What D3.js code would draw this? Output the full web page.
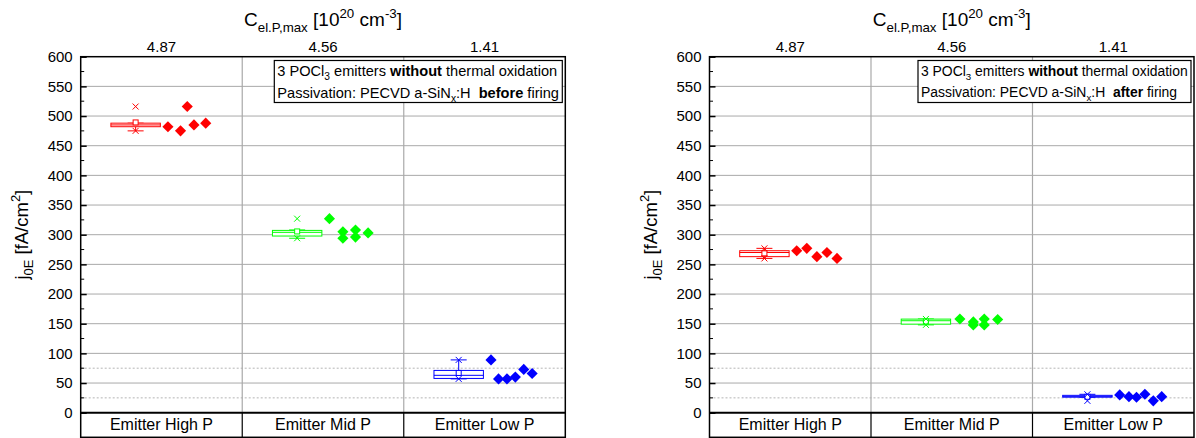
<!DOCTYPE html>
<html>
<head>
<meta charset="utf-8">
<script src="https://cdn.jsdelivr.net/npm/d3@7"></script>
<style>
  body { margin: 0; background: #fff; }
  svg { display: block; font-family: "Liberation Sans", Arial, sans-serif; }
</style>
</head>
<body>
<svg id="chart" width="1196" height="438"></svg>
<script>
const categories = ["Emitter High P", "Emitter Mid P", "Emitter Low P"];
const topLabels = ["4.87", "4.56", "1.41"];
const yTicks = d3.range(0, 601, 50);
const dottedLevels = [25, 75];
const colors = ["#ff0000", "#00ff00", "#0000ff"];

// jOE values before firing
const beforeHigh = [482, 475, 516, 485, 488];
const beforeMid = [327, 305, 294, 308, 296, 303];
const beforeLow = [89, 57, 57, 60, 73, 66];
// jOE values after firing
const afterHigh = [273, 277, 263, 270, 260];
const afterMid = [158, 153, 148, 158, 148, 157];
const afterLow = [30, 27, 26, 31, 20, 27];

// dot column of each measurement beside its box
const beforeHighCol = [0, 1.5, 2.3, 3.1, 4.5];
const beforeMidCol = [0, 1.6, 1.6, 3.1, 3.1, 4.6];
const beforeLowCol = [0, 0.9, 1.9, 2.9, 3.9, 4.9];
const afterHighCol = [0, 1.2, 2.4, 3.6, 4.8];
const afterMidCol = [0.2, 1.8, 1.8, 3.1, 3.1, 4.7];
const afterLowCol = [0, 1.1, 2.0, 3.0, 4.0, 5.0];

const svg = d3.select("#chart");
const plotTop = 56.7, zero = 412.7, plotBottom = 437.3;
const y = d3.scaleLinear().domain([0, 600]).range([zero, plotTop]);

const panels = [
  {left: 80.7, right: 565.3, word: "before", legendW: 282,
   data: [beforeHigh, beforeMid, beforeLow], cols: [beforeHighCol, beforeMidCol, beforeLowCol]},
  {left: 709.5, right: 1194, word: "after", legendW: 267,
   data: [afterHigh, afterMid, afterLow], cols: [afterHighCol, afterMidCol, afterLowCol]}
];

// text with sub/superscripts, parts = [text, mode, bold]
function richText(sel, parts, fs) {
  let shift = 0;
  sel.style("white-space", "pre");
  parts.forEach(([t, mode, bold]) => {
    const target = mode === "sub" ? fs * 0.3 : mode === "sup" ? -fs * 0.42 : 0;
    const ts = sel.append("tspan").text(t).attr("dy", target - shift);
    if (mode) ts.attr("font-size", fs * 0.7);
    if (bold) ts.attr("font-weight", "bold");
    shift = target;
  });
}

const cross = "M-3,-3L3,3M-3,3L3,-3";

function drawPanel(p) {
  const g = svg.append("g");
  const x = d3.scaleBand().domain(categories).range([p.left, p.right]);
  const bw = x.bandwidth();
  const colX = d3.scaleLinear().domain([0, 5]).range([0.54 * bw, 0.80 * bw]);

  // grid
  g.selectAll(".hg").data(yTicks.filter(v => v > 0 && v < 600)).join("line")
    .attr("x1", p.left).attr("x2", p.right)
    .attr("y1", d => y(d)).attr("y2", d => y(d))
    .attr("stroke", "#a9a9a9").attr("stroke-width", 1);
  g.selectAll(".dg").data(dottedLevels).join("line")
    .attr("x1", p.left).attr("x2", p.right)
    .attr("y1", d => y(d)).attr("y2", d => y(d))
    .attr("stroke", "#b5b5b5").attr("stroke-width", 1).attr("stroke-dasharray", "2,2");
  g.selectAll(".vg").data(categories.slice(1)).join("line")
    .attr("x1", d => x(d)).attr("x2", d => x(d))
    .attr("y1", plotTop).attr("y2", zero)
    .attr("stroke", "#a9a9a9").attr("stroke-width", 1.2);
  g.selectAll(".vb").data(categories.slice(1)).join("line")
    .attr("x1", d => x(d)).attr("x2", d => x(d))
    .attr("y1", zero).attr("y2", plotBottom)
    .attr("stroke", "#000").attr("stroke-width", 1.2);

  // left axis
  const ya = g.append("g").attr("transform", `translate(${p.left},0)`)
    .call(d3.axisLeft(y).tickValues(yTicks).tickSizeInner(-6).tickSizeOuter(0).tickPadding(8));
  ya.select(".domain").remove();
  ya.selectAll("line").attr("stroke", "#000").attr("stroke-width", 1.5);
  ya.selectAll("text").attr("font-size", 15).attr("fill", "#000")
    .attr("font-family", "Liberation Sans, Arial, sans-serif");
  g.selectAll(".mt").data(dottedLevels.concat(d3.range(125, 600, 50))).join("line")
    .attr("x1", p.left).attr("x2", p.left + 3.5)
    .attr("y1", d => y(d)).attr("y2", d => y(d))
    .attr("stroke", "#000").attr("stroke-width", 1);

  // top axis labels
  const xt = g.append("g").attr("transform", `translate(0,${plotTop})`)
    .call(d3.axisTop(x).tickSize(0).tickPadding(5).tickFormat((d, i) => topLabels[i]));
  xt.select(".domain").remove();
  xt.selectAll("text").attr("font-size", 15).attr("fill", "#000")
    .attr("font-family", "Liberation Sans, Arial, sans-serif");

  // category labels
  const xb = g.append("g").attr("transform", `translate(0,${zero})`)
    .call(d3.axisBottom(x).tickSize(0).tickPadding(6));
  xb.select(".domain").remove();
  xb.selectAll("text").attr("font-size", 16).attr("fill", "#000")
    .attr("font-family", "Liberation Sans, Arial, sans-serif");

  // boxes and points
  categories.forEach((c, i) => {
    const vals = p.data[i];
    const s = vals.slice().sort(d3.ascending);
    const q1 = d3.quantile(s, 0.25), med = d3.quantile(s, 0.5), q3 = d3.quantile(s, 0.75);
    const iqr = q3 - q1;
    const lo = d3.min(s.filter(v => v >= q1 - 1.5 * iqr));
    const hi = d3.max(s.filter(v => v <= q3 + 1.5 * iqr));
    const cx = x(c) + bw * 0.34, hw = bw * 0.153;
    const col = colors[i];
    const bg = g.append("g").attr("stroke", col).attr("fill", "none").attr("stroke-width", 1);
    bg.append("line").attr("x1", cx).attr("x2", cx).attr("y1", y(hi)).attr("y2", y(q3));
    bg.append("line").attr("x1", cx).attr("x2", cx).attr("y1", y(q1)).attr("y2", y(lo));
    [lo, hi].forEach(v => bg.append("line").attr("x1", cx - 8).attr("x2", cx + 8)
      .attr("y1", y(v)).attr("y2", y(v)));
    bg.append("rect").attr("x", cx - hw).attr("width", 2 * hw)
      .attr("y", y(q3)).attr("height", Math.max(y(q1) - y(q3), 1)).attr("fill", "#fff");
    bg.append("line").attr("x1", cx - hw).attr("x2", cx + hw).attr("y1", y(med)).attr("y2", y(med));
    bg.append("rect").attr("x", cx - 2.5).attr("y", y(d3.mean(s)) - 2.5)
      .attr("width", 5).attr("height", 5).attr("fill", "#fff");
    [s[0], s[s.length - 1]].forEach(v => bg.append("path").attr("d", cross)
      .attr("transform", `translate(${cx},${y(v)})`));

    g.selectAll(null).data(vals).join("path")
      .attr("d", d3.symbol(d3.symbolSquare, 62)())
      .attr("transform", (d, j) => `translate(${x(c) + colX(p.cols[i][j])},${y(d)}) rotate(45)`)
      .attr("fill", col);
  });

  // frame
  g.append("line").attr("x1", p.left).attr("x2", p.right).attr("y1", zero).attr("y2", zero)
    .attr("stroke", "#000").attr("stroke-width", 2);
  g.append("rect").attr("x", p.left).attr("y", plotTop)
    .attr("width", p.right - p.left).attr("height", plotBottom - plotTop)
    .attr("fill", "none").attr("stroke", "#000").attr("stroke-width", 1.5);

  // legend
  const bx = p.right - 3 - p.legendW - 6;
  g.append("rect").attr("x", bx).attr("y", 60.5)
    .attr("width", p.legendW + 6).attr("height", 42)
    .attr("fill", "#fff").attr("stroke", "#000").attr("stroke-width", 1.2);
  const lg = g.append("g");
  const l1 = lg.append("text").attr("x", 0).attr("y", 0).attr("font-size", 13);
  richText(l1, [["3 POCl"], ["3", "sub"], [" emitters "], ["without", null, true], [" thermal oxidation"]], 13);
  const l2 = lg.append("text").attr("x", 0).attr("y", 20).attr("font-size", 13);
  richText(l2, [["Passivation: PECVD a-SiN"], ["x", "sub"], [":H  "], [p.word, null, true], [" firing"]], 13);
  const w = Math.max(l1.node().getComputedTextLength(), l2.node().getComputedTextLength());
  const k = p.legendW / w;
  lg.attr("transform", `translate(${bx + 3},75.5) scale(${k})`);

  // axis titles
  const mid = (p.left + p.right) / 2;
  const tt = g.append("text").attr("x", mid).attr("y", 26).attr("text-anchor", "middle")
    .attr("font-size", 19);
  richText(tt, [["C"], ["el.P,max", "sub"], [" [10"], ["20", "sup"], [" cm"], ["-3", "sup"], ["]"]], 19);
  const yt = g.append("text").attr("text-anchor", "middle").attr("font-size", 18.5)
    .attr("transform", `translate(${p.left - 53},${(plotTop + zero) / 2}) rotate(-90)`);
  richText(yt, [["j"], ["0E", "sub"], [" [fA/cm"], ["2", "sup"], ["]"]], 18.5);
}

panels.forEach(drawPanel);
</script>
</body>
</html>
